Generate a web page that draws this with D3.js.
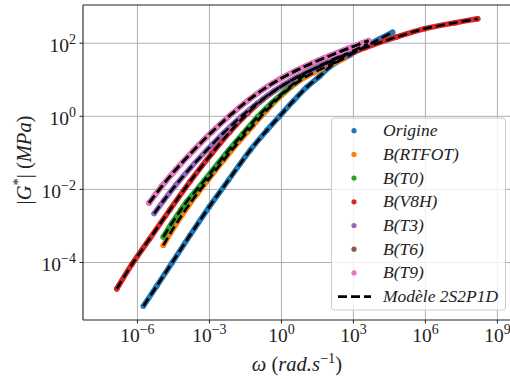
<!DOCTYPE html>
<html>
<head>
<meta charset="utf-8">
<script src="https://cdn.jsdelivr.net/npm/d3@7"></script>
<style>
  html, body { margin: 0; padding: 0; background: #fff; }
  svg { display: block; }
  text { font-family: "Liberation Serif", "DejaVu Serif", serif; fill: #222; }
</style>
</head>
<body>
<svg id="chart" width="510" height="379"></svg>
<script>
// ---- Data ----
const seriesNames = ["Origine", "B(RTFOT)", "B(T0)", "B(V8H)", "B(T3)", "B(T6)", "B(T9)"];
const seriesColors = ["#1f77b4", "#ff7f0e", "#2ca02c", "#d62728", "#9467bd", "#8c564b", "#e377c2"];
const modelName = "Modèle 2S2P1D";

const omegaOrigine = [1.78e-6, 6.31e-6, 2.82e-5, 1.58e-4, 1e-3, 6.17e-3, 5.01e-2, 0.251, 0.832, 3.16, 11.5, 39.8, 107, 724, 3630, 12600, 42700];
const gOrigine     = [6.46e-6, 2.24e-5, 1e-4, 5.62e-4, 3.39e-3, 1.78e-2, 0.118, 0.417, 1.0, 2.63, 6.31, 12.6, 22.9, 47.9, 85.1, 132, 200];

const omegaRTFOT = [1.20e-5, 2.51e-5, 6.03e-5, 1.26e-4, 2.95e-4, 9.12e-4, 3.98e-3, 1.58e-2, 6.31e-2, 0.251, 0.832, 3.98, 20.0, 100, 398];
const gRTFOT     = [2.95e-4, 6.76e-4, 1.66e-3, 3.39e-3, 7.24e-3, 1.86e-2, 6.31e-2, 0.191, 0.537, 1.48, 3.31, 7.94, 15.1, 25.1, 38.0];

const omegaT0 = [1.20e-5, 2.69e-5, 6.31e-5, 1.15e-4, 4.07e-4, 1.58e-3, 6.31e-3, 2.51e-2, 0.1, 0.398, 1.58, 5.01, 15.8, 50.1, 158, 501];
const gT0     = [5.01e-4, 1.18e-3, 2.69e-3, 4.68e-3, 1.26e-2, 3.80e-2, 0.118, 0.339, 0.955, 2.34, 5.25, 10.0, 17.4, 26.3, 37.2, 50.1];

const omegaV8H = [1.38e-7, 5.89e-7, 3.16e-6, 2.29e-5, 1.58e-4, 1.26e-3, 7.24e-3, 3.98e-2, 0.178, 1.0, 4.37, 20.0, 107, 631, 3160, 63100, 9.77e5, 1.74e7, 1.51e8];
const gV8H     = [1.91e-5, 8.91e-5, 4.37e-4, 2.82e-3, 1.66e-2, 9.55e-2, 0.380, 1.23, 2.95, 6.61, 11.7, 19.1, 30.9, 50.1, 75.9, 148, 251, 363, 468];

const omegaT3 = [5.01e-6, 1.26e-5, 3.98e-5, 1.58e-4, 7.94e-4, 3.98e-3, 2.00e-2, 0.1, 0.501, 2.51, 12.6, 63.1, 316, 1580, 3980];
const gT3     = [2.19e-3, 5.01e-3, 1.32e-2, 3.80e-2, 0.120, 0.355, 0.955, 2.29, 5.01, 9.55, 16.6, 26.9, 43.7, 72.4, 95.5];

const omegaT6 = [3.09e-6, 1e-5, 3.98e-5, 2.14e-4, 1.26e-3, 7.94e-3, 3.98e-2, 0.178, 1.0, 4.37, 20.0, 107, 631, 4270];
const gT6     = [4.27e-3, 1.175e-2, 3.47e-2, 0.115, 0.372, 1.12, 2.69, 5.50, 11.0, 18.2, 28.8, 45.7, 72.4, 117];

const omegaT9 = [3.09e-6, 1e-5, 3.98e-5, 2.14e-4, 1.26e-3, 7.94e-3, 3.98e-2, 0.178, 1.0, 4.37, 20.0, 107, 631, 4270];
const gT9     = [4.27e-3, 1.175e-2, 3.47e-2, 0.115, 0.372, 1.12, 2.69, 5.50, 11.0, 18.2, 28.8, 45.7, 72.4, 117];

const xTickExps = [-6, -3, 0, 3, 6, 9];
const yTickExps = [-4, -2, 0, 2];

// ---- Build ----
const omegas = [omegaOrigine, omegaRTFOT, omegaT0, omegaV8H, omegaT3, omegaT6, omegaT9];
const gs = [gOrigine, gRTFOT, gT0, gV8H, gT3, gT6, gT9];
const series = seriesNames.map((name, i) => ({
  name, color: seriesColors[i],
  pts: omegas[i].map((w, j) => ({ w, g: gs[i][j] }))
}));

const svg = d3.select("#chart");
const L = 83, R = 511, T = 5, B = 320;
const x = d3.scaleLog().domain([5.4e-9, 3.69e9]).range([L, R]);
const y = d3.scaleLog().domain([2.67e-6, 1109]).range([B, T]);

const fmtExp = e => (e < 0 ? "\u2212" + Math.abs(e) : String(e));

// grid
const grid = svg.append("g");
xTickExps.forEach(e => {
  grid.append("line").attr("x1", x(Math.pow(10, e))).attr("x2", x(Math.pow(10, e)))
    .attr("y1", T).attr("y2", B).attr("stroke", "#b0b0b0").attr("stroke-width", 1);
});
yTickExps.forEach(e => {
  grid.append("line").attr("y1", y(Math.pow(10, e))).attr("y2", y(Math.pow(10, e)))
    .attr("x1", L).attr("x2", R).attr("stroke", "#b0b0b0").attr("stroke-width", 1);
});

const plot = svg.append("g");
const line = d3.line().x(d => x(d.w)).y(d => y(d.g)).curve(d3.curveCatmullRom.alpha(0.5));

// colored point bands
series.forEach(s => {
  plot.append("path").datum(s.pts).attr("d", line)
    .attr("fill", "none").attr("stroke", s.color).attr("stroke-width", 5.5)
    .attr("stroke-linecap", "round").attr("stroke-linejoin", "round");
  plot.selectAll(null).data(s.pts).enter().append("circle")
    .attr("cx", d => x(d.w)).attr("cy", d => y(d.g)).attr("r", 2.8)
    .attr("fill", s.color);
});
// model dashed lines
series.forEach(s => {
  plot.append("path").datum(s.pts).attr("d", line)
    .attr("fill", "none").attr("stroke", "#000").attr("stroke-width", 2.6)
    .attr("stroke-dasharray", "9,4");
});

// axes spines
svg.append("line").attr("x1", L).attr("x2", L).attr("y1", T).attr("y2", B).attr("stroke", "#222").attr("stroke-width", 1.1);
svg.append("line").attr("x1", L).attr("x2", R).attr("y1", B).attr("y2", B).attr("stroke", "#222").attr("stroke-width", 1.1);
svg.append("line").attr("x1", L).attr("x2", R).attr("y1", T).attr("y2", T).attr("stroke", "#222").attr("stroke-width", 1.1);

// x ticks
xTickExps.forEach(e => {
  const px = x(Math.pow(10, e));
  svg.append("line").attr("x1", px).attr("x2", px).attr("y1", B).attr("y2", B + 3.5).attr("stroke", "#222");
  const t = svg.append("text").attr("x", px).attr("y", 342).attr("text-anchor", "middle").attr("font-size", 19.5);
  t.append("tspan").text("10");
  t.append("tspan").attr("dy", -8).attr("font-size", 14).text(fmtExp(e));
});
// y ticks
yTickExps.forEach(e => {
  const py = y(Math.pow(10, e));
  svg.append("line").attr("x1", L - 3.5).attr("x2", L).attr("y1", py).attr("y2", py).attr("stroke", "#222");
  const t = svg.append("text").attr("x", 76).attr("y", py + 9).attr("text-anchor", "end").attr("font-size", 19.5);
  t.append("tspan").text("10");
  t.append("tspan").attr("dy", -8).attr("font-size", 14).text(fmtExp(e));
});

// axis labels
const xl = svg.append("text").attr("x", 297).attr("y", 371).attr("text-anchor", "middle").attr("font-size", 20.5);
xl.append("tspan").attr("font-style", "italic").text("ω");
xl.append("tspan").text(" (");
xl.append("tspan").attr("font-style", "italic").text("rad.s");
xl.append("tspan").attr("dy", -8).attr("font-size", 14.5).text("\u22121");
xl.append("tspan").attr("dy", 8).text(")");

const yl = svg.append("text").attr("transform", "translate(31,160) rotate(-90)").attr("text-anchor", "middle").attr("font-size", 20.5);
yl.append("tspan").text("|");
yl.append("tspan").attr("font-style", "italic").text("G");
yl.append("tspan").attr("dy", -8).attr("font-size", 14.5).text("*");
yl.append("tspan").attr("dy", 8).text("| (");
yl.append("tspan").attr("font-style", "italic").text("MPa");
yl.append("tspan").text(")");

// legend
const lg = svg.append("g");
lg.append("rect").attr("x", 331.5).attr("y", 118).attr("width", 174).attr("height", 192)
  .attr("rx", 3).attr("fill", "#fff").attr("fill-opacity", 0.8).attr("stroke", "#cccccc").attr("stroke-width", 1);
const rowY0 = 130.7, rowStep = 23.7;
series.forEach((s, i) => {
  const ry = rowY0 + i * rowStep;
  lg.append("circle").attr("cx", 354).attr("cy", ry).attr("r", 2.6).attr("fill", s.color);
  lg.append("text").attr("x", 383).attr("y", ry + 5.5).attr("font-size", 17.5).attr("font-style", "italic").text(s.name);
});
const my = rowY0 + 7 * rowStep;
lg.append("line").attr("x1", 338).attr("x2", 371).attr("y1", my).attr("y2", my)
  .attr("stroke", "#000").attr("stroke-width", 2.6).attr("stroke-dasharray", "9,4");
lg.append("text").attr("x", 383).attr("y", my + 5.5).attr("font-size", 17.5).attr("font-style", "italic").text(modelName);
</script>
</body>
</html>
